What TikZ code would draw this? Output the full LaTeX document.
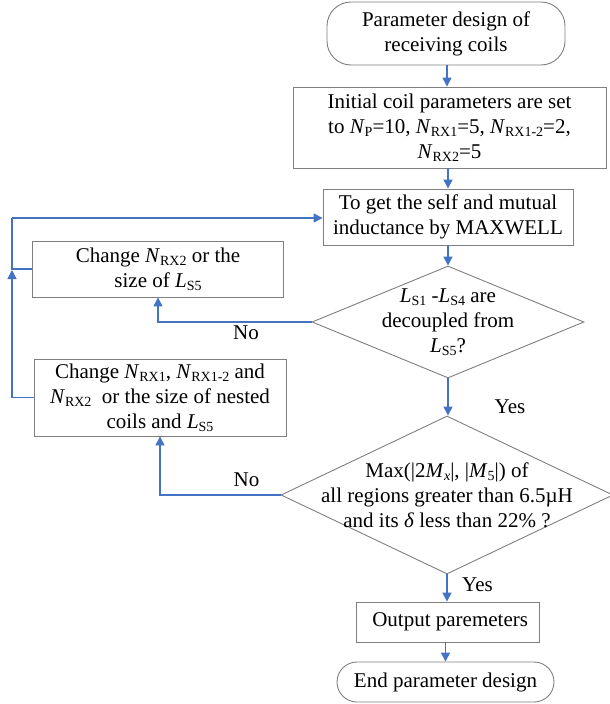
\documentclass[tikz,border=0pt]{standalone}
\usepackage{fontspec}
\setmainfont{Liberation Serif}
\usetikzlibrary{shapes.geometric,arrows.meta}
\definecolor{flowblue}{HTML}{4472C4}
\definecolor{boxgray}{HTML}{7F7F7F}
\newcommand{\lowsub}[1]{\raisebox{-0.3ex}{\fontsize{14}{14}\selectfont #1}}
\newcommand{\Nrx}[1]{\textit{N}\lowsub{#1}}
\newcommand{\Lsc}[1]{\textit{L}\lowsub{S#1}}
\tikzset{
  procbox/.style={draw=boxgray, line width=0.9pt, rectangle, align=center, inner sep=0pt},
  termbox/.style={procbox, rounded corners=20pt},
  decide/.style={draw=boxgray, line width=0.9pt, diamond, align=center},
  flow/.style={draw=flowblue, line width=1.4pt, -{Triangle[width=9pt,length=9pt]}},
  flowline/.style={draw=flowblue, line width=1.4pt},
  lbl/.style={inner sep=0pt}
}
\begin{document}
\begin{tikzpicture}[x=1pt,y=1pt,font=\fontsize{21}{25}\selectfont]
\useasboundingbox (0,0) rectangle (610,-704);
\node[termbox, minimum width=238pt, minimum height=63pt, rounded corners=24pt] (start) at (446,-33.5) {Parameter design of\\receiving coils};
\node[procbox, minimum width=313pt, minimum height=81pt] (init) at (449.5,-127.5) {Initial coil parameters are set\\to \Nrx{P}=10, \Nrx{RX1}=5, \Nrx{RX1-2}=2,\\\Nrx{RX2}=5};
\node[procbox, minimum width=250pt, minimum height=56pt] (maxw) at (448,-217) {To get the self and mutual\\inductance by MAXWELL};
\node[decide, minimum width=272pt, minimum height=112pt, shape aspect=2.43, inner xsep=-6pt, inner ysep=-5pt] (dec1) at (448,-322) {\Lsc{1} -\Lsc{4} are\\decoupled from\\\Lsc{5}?};
\node[decide, minimum width=332pt, minimum height=158pt, shape aspect=2.1, inner xsep=-22pt, inner ysep=-6pt] (dec2) at (447,-495) {Max(|2\textit{M}\lowsub{\textit{x}}|, |\textit{M}\lowsub{5}|) of\\all regions greater than 6.5µH\\and its \textit{δ} less than 22\% ?};
\node[procbox, minimum width=183pt, minimum height=40pt] (outp) at (447.5,-622) {\ Output paremeters};
\node[termbox, minimum width=217pt, minimum height=40pt] (finish) at (445.5,-682) {End parameter design};
\node[procbox, minimum width=251pt, minimum height=56pt] (chg1) at (158,-269) {Change \Nrx{RX2} or the\\size of \Lsc{5}};
\node[procbox, minimum width=252pt, minimum height=77pt] (chg2) at (160,-397.5) {Change \Nrx{RX1}, \Nrx{RX1-2} and\\\Nrx{RX2}\ \ or the size of nested\\coils and \Lsc{5}};
\node[lbl] (yes1) at (510,-407) {Yes};
\node[lbl] (yes2) at (477.5,-585) {Yes};
\node[lbl] (no1) at (246,-333) {No};
\node[lbl] (no2) at (246.5,-480) {No};
\coordinate (back1) at (12,-269);
\coordinate (back2) at (12,-397.5);
\coordinate (backtop) at (12,-218);
% main column
\draw[flow] (start.south -| 447,0) -- (447,0 |- init.north);
\draw[flow] (init.south -| maxw) -- (maxw.north);
\draw[flow] (maxw) -- (dec1);
\draw[flow] (dec1.south) -- (dec1.south |- dec2.north);
\draw[flow] (dec2.south) -- (dec2.south |- outp.north);
\draw[flow] (outp.south -| finish) -- (finish.north);
% No branches
\draw[flow] (dec1.west) -| (chg1.south);
\draw[flow] (dec2.west) -| (chg2.south);
% feedback loop
\draw[flow] (chg2.west) -- (back2) -- ([yshift=-1pt]back1);
\draw[flowline] (chg1.west) -- (back1) -- (backtop);
\draw[flow] (backtop) -- (backtop -| maxw.west);
\end{tikzpicture}
\end{document}
